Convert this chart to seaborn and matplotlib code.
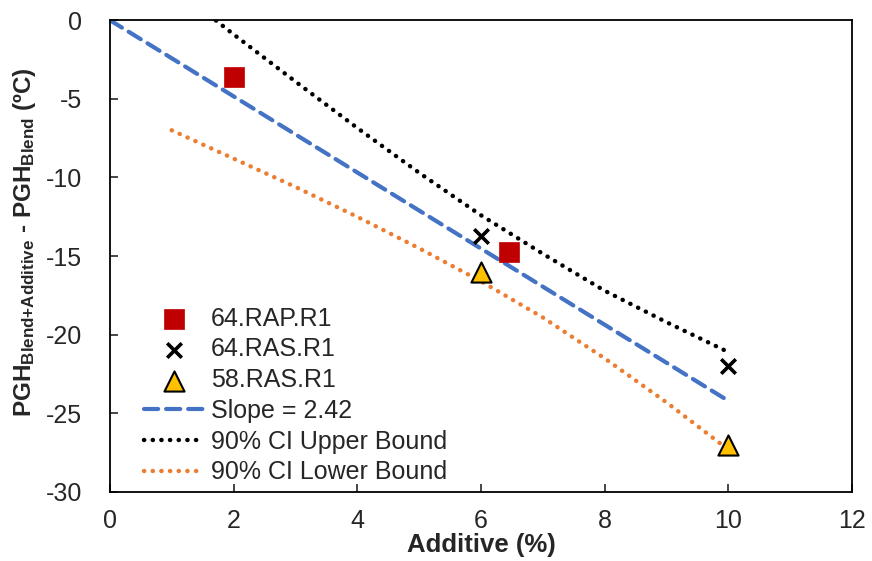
"""Recreate PGH difference vs additive dosage chart."""

import matplotlib
matplotlib.use("Agg")
import matplotlib.pyplot as plt
import seaborn as sns

# measured points per binder
rap_x = [2.0, 6.45]
rap_y = [-3.6, -14.75]
ras64_x = [6.0, 10.0]
ras64_y = [-13.7, -22.0]
ras58_x = [6.0, 10.0]
ras58_y = [-16.0, -27.0]

# fitted line and 90% confidence bounds
fit_x = [0.0, 10.0]
fit_y = [0.0, -24.2]
ci_x = [1, 2, 3, 4, 5, 6, 7, 8, 9, 10]
ci_upper = [2.2, -0.9, -3.9, -6.85, -9.7, -12.4, -14.85, -17.2, -19.2, -21.1]
ci_lower = [-7.0, -8.8, -10.6, -12.5, -14.5, -16.6, -18.9, -21.5, -24.3, -27.3]

sns.set_style("ticks")
plt.rcParams["font.family"] = ["Liberation Sans", "DejaVu Sans"]
plt.rcParams["axes.unicode_minus"] = False
plt.rcParams["mathtext.fontset"] = "custom"
plt.rcParams["mathtext.rm"] = "Liberation Sans:bold"
plt.rcParams["mathtext.bf"] = "Liberation Sans:bold"
plt.rcParams["mathtext.default"] = "bf"

fig = plt.figure(figsize=(8.72, 5.61), dpi=100)
ax = fig.add_axes([0.126, 0.123, 0.851, 0.841])

sns.lineplot(x=fit_x, y=fit_y, ax=ax, color="#4472C4", linewidth=3.0,
             linestyle=(0, (3.4, 1.9)), label="Slope = 2.42", zorder=2)
sns.lineplot(x=ci_x, y=ci_upper, ax=ax, color="black", linewidth=3.2,
             linestyle=(0, (0.05, 1.9)), label="90% CI Upper Bound", zorder=2)
sns.lineplot(x=ci_x, y=ci_lower, ax=ax, color="#ED7D31", linewidth=3.2,
             linestyle=(0, (0.05, 1.9)), label="90% CI Lower Bound", zorder=2)
for ln in ax.lines:
    ln.set_dash_capstyle("round")

sns.scatterplot(x=rap_x, y=rap_y, ax=ax, marker="s", s=190, color="#C00000",
                edgecolor="#C00000", linewidth=0.5, label="64.RAP.R1", zorder=3)
sns.scatterplot(x=ras64_x, y=ras64_y, ax=ax, marker="x", s=110, color="black",
                linewidth=2.6, label="64.RAS.R1", zorder=3)
sns.scatterplot(x=ras58_x, y=ras58_y, ax=ax, marker="^", s=210, color="#FFC000",
                edgecolor="black", linewidth=1.5, label="58.RAS.R1", zorder=3)

ax.set_xlim(0, 12)
ax.set_ylim(-30, 0)
ax.set_xticks(range(0, 13, 2))
ax.set_yticks(range(-30, 1, 5))
ax.tick_params(direction="in", length=6, width=1.2, labelsize=18, pad=12)
ax.tick_params(axis="y", pad=20)
for sp in ax.spines.values():
    sp.set_linewidth(1.3)
    sp.set_color("black")

ax.set_xlabel("Additive (%)", fontsize=18.5, fontweight="bold", labelpad=0)
ax.set_ylabel(r"PGH$_{Blend{+}Additive}$ - PGH$_{Blend}$ (ºC)",
              fontsize=17.5, fontweight="bold")
ax.yaxis.set_label_coords(-0.097, 0.53)

handles, labels = ax.get_legend_handles_labels()
order = [3, 4, 5, 0, 1, 2]
ax.legend([handles[i] for i in order], [labels[i] for i in order],
          loc="lower left", bbox_to_anchor=(0.033, -0.005), frameon=False,
          fontsize=18, handlelength=2.35, handletextpad=0.3,
          labelspacing=0.27, borderaxespad=0.0)

fig.savefig("out.png", dpi=100)
